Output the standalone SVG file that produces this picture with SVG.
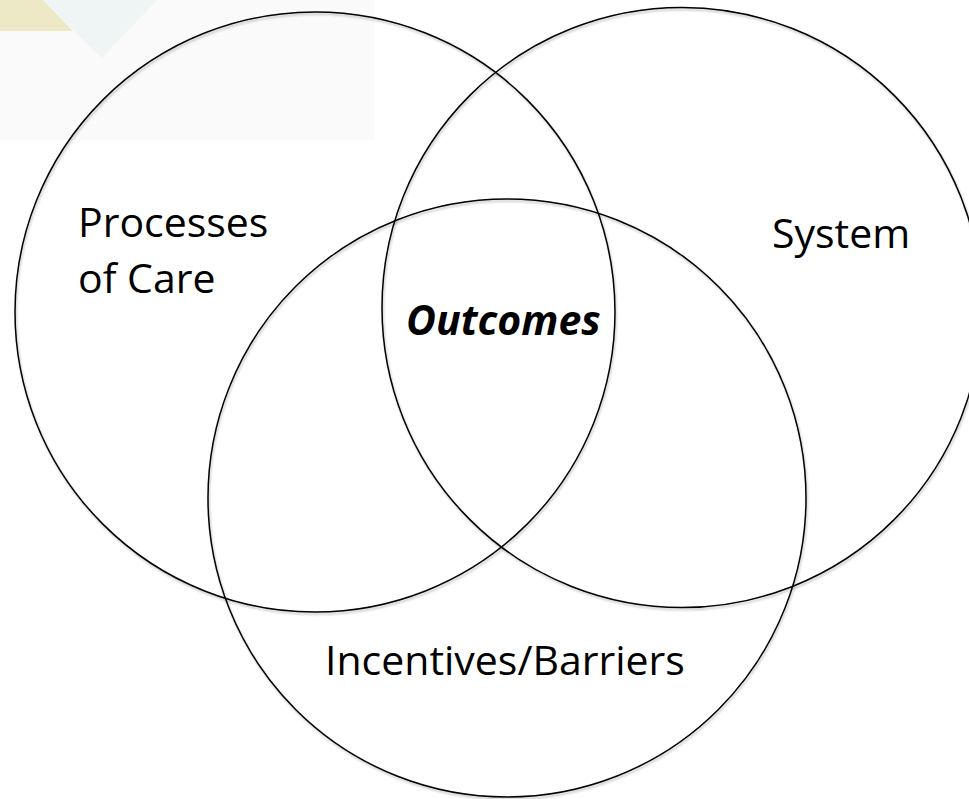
<svg xmlns="http://www.w3.org/2000/svg" width="969" height="799" viewBox="0 0 969 799">
  <defs>
    <filter id="shadow" x="-10%" y="-10%" width="120%" height="120%">
      <feDropShadow dx="1" dy="2" stdDeviation="1.2" flood-color="#000" flood-opacity="0.25"/>
    </filter>
  </defs>
  <style>
    .ring { fill: none; stroke: #000; stroke-width: 1.5; filter: url(#shadow); }
    .label { font-family: "Open Sans", "Noto Sans", "Liberation Sans", sans-serif; font-size: 41px; fill: #000; }
    .center { font-weight: bold; font-style: italic; }
  </style>
  <rect width="969" height="799" fill="#ffffff"/>
  <g id="background-decor">
    <rect x="0" y="0" width="374" height="140" fill="#fafafa"/>
    <polygon points="0,0 43,0 73,31 0,31" fill="#ede8c6"/>
    <polygon points="43,0 157,0 102,58" fill="#eff5f4"/>
  </g>
  <g id="node-processes">
    <circle class="ring" cx="315" cy="312" r="300"/>
    <text class="label" x="78" y="237">Processes</text>
    <text class="label" x="78" y="293">of Care</text>
  </g>
  <g id="node-system">
    <circle class="ring" cx="682" cy="307.5" r="300"/>
    <text class="label" x="772" y="248">System</text>
  </g>
  <g id="node-incentives">
    <circle class="ring" cx="507" cy="498" r="299"/>
    <text class="label" x="325" y="675">Incentives/Barriers</text>
  </g>
  <g id="node-outcomes">
    <text class="label center" x="406" y="335">Outcomes</text>
  </g>
  <g id="connectors"/>
</svg>
